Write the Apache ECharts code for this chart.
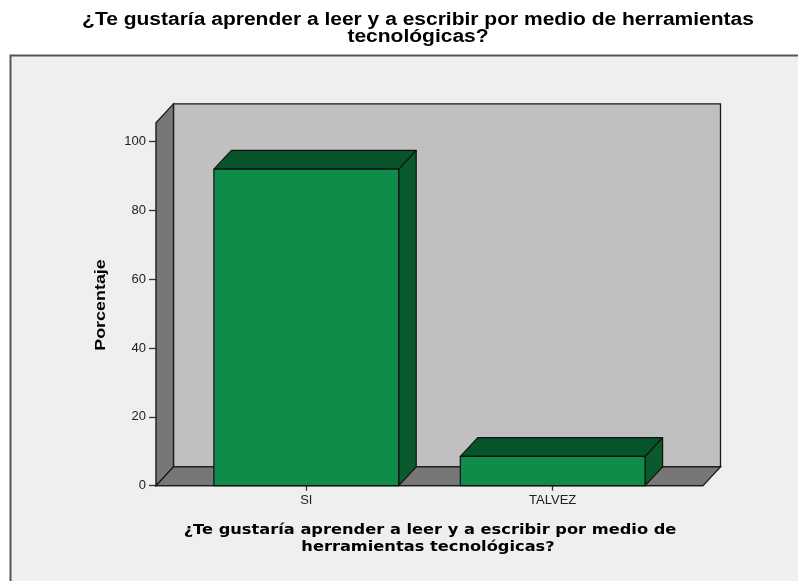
<!DOCTYPE html>
<html><head><meta charset="utf-8">
<script src="https://cdn.jsdelivr.net/npm/echarts@6/dist/echarts.min.js"></script>
<style>html,body{margin:0;padding:0;background:#fff}#c{width:798px;height:581px}</style>
</head><body><div id="c"></div>
<script>
const titleLines = ['¿Te gustaría aprender a leer y a escribir por medio de herramientas', 'tecnológicas?'];
const xTitleLines = ['¿Te gustaría aprender a leer y a escribir por medio de', 'herramientas tecnológicas?'];
const yTitle = 'Porcentaje';
const categories = ['SI', 'TALVEZ'];
const percentages = [92, 8.5];
const yTicks = [0, 20, 40, 60, 80, 100];

const DX = 17.5, DY = 18.8, HALF = 0.375;
const chart = echarts.init(document.getElementById('c'), null, {renderer: 'canvas'});

function wallsRender(params, api) {
  const cs = params.coordSys;
  const L = cs.x, T = cs.y, R = cs.x + cs.width, B = cs.y + cs.height;
  const line = {stroke: '#1a1a1a', lineWidth: 1.3};
  return {type: 'group', silent: true, children: [
    {type: 'rect', shape: {x: L + DX, y: T - DY, width: R - L, height: B - T}, style: Object.assign({fill: '#c0c0c0'}, line)},
    {type: 'polygon', shape: {points: [[L, B], [L, T], [L + DX, T - DY], [L + DX, B - DY]]}, style: Object.assign({fill: '#777777'}, line)},
    {type: 'polygon', shape: {points: [[L, B], [L + DX, B - DY], [R + DX, B - DY], [R, B]]}, style: Object.assign({fill: '#777777'}, line)}
  ]};
}

function barRender(params, api) {
  const x = api.value(0), v = api.value(1);
  const p0 = api.coord([x - HALF, 0]);
  const p1 = api.coord([x + HALF, v]);
  const x0 = p0[0], x1 = p1[0], yb = p0[1], yt = p1[1];
  const line = {stroke: '#111', lineWidth: 1.2, lineJoin: 'round'};
  return {type: 'group', children: [
    {type: 'polygon', shape: {points: [[x1, yt], [x1 + DX, yt - DY], [x1 + DX, yb - DY], [x1, yb]]}, style: Object.assign({fill: '#0a5a2d'}, line)},
    {type: 'polygon', shape: {points: [[x0, yt], [x0 + DX, yt - DY], [x1 + DX, yt - DY], [x1, yt]]}, style: Object.assign({fill: '#08542a'}, line)},
    {type: 'rect', shape: {x: x0, y: yt, width: x1 - x0, height: yb - yt}, style: Object.assign({fill: '#108c4a'}, line)}
  ]};
}

function textLine(txt, x, y, opts) {
  return Object.assign({type: 'text', x: x, y: y, silent: true,
    style: {text: txt, fontFamily: opts.family, fontWeight: 'bold', fontSize: opts.size, fill: '#000', align: 'center', verticalAlign: 'middle'}},
    opts.extra || {});
}

const titleOpts = {family: 'Liberation Sans', size: 17.5, extra: {scaleX: 1.2}};
const xTitleOpts = {family: 'DejaVu Sans', size: 14, extra: {scaleX: 1.16}};

chart.setOption({
  animation: false,
  backgroundColor: '#ffffff',
  graphic: [
    {type: 'rect', z: -10, silent: true, shape: {x: 10.5, y: 55.5, width: 820, height: 560},
     style: {fill: '#efefef', stroke: '#555', lineWidth: 2}},
    textLine(titleLines[0], 418, 20.5, titleOpts),
    textLine(titleLines[1], 418, 37, titleOpts),
    textLine(xTitleLines[0], 430, 530.5, xTitleOpts),
    textLine(xTitleLines[1], 428, 547.5, xTitleOpts),
    {type: 'text', x: 101, y: 305, rotation: Math.PI / 2, scaleX: 1.28, silent: true,
     style: {text: yTitle, fontFamily: 'Liberation Sans', fontWeight: 'bold', fontSize: 14, fill: '#000', align: 'center', verticalAlign: 'middle'}}
  ],
  grid: {left: 156, right: 95, top: 122.7, bottom: 95.3, containLabel: false},
  xAxis: {
    type: 'value', min: -0.61, max: 1.61,
    axisLine: {show: true, onZero: false, lineStyle: {color: '#1a1a1a', width: 1.3}},
    splitLine: {show: false},
    axisTick: {show: true, customValues: [0, 1], length: 5, lineStyle: {color: '#333', width: 1.3}},
    axisLabel: {customValues: [0, 1], formatter: v => categories[v], margin: 8,
      fontFamily: 'Liberation Sans', fontSize: 13, color: '#222'}
  },
  yAxis: {
    type: 'value', min: 0, max: 105.5,
    axisLine: {show: true, onZero: false, lineStyle: {color: '#1a1a1a', width: 1.3}},
    splitLine: {show: false},
    axisTick: {show: true, customValues: yTicks, length: 7, lineStyle: {color: '#333', width: 1.3}},
    axisLabel: {customValues: yTicks, margin: 10, fontFamily: 'Liberation Sans', fontSize: 13, color: '#222'}
  },
  series: [
    {type: 'custom', renderItem: wallsRender, data: [[0, 0]], z: 1, silent: true},
    {type: 'custom', renderItem: barRender, z: 2,
     data: categories.map((c, i) => [i, percentages[i]])}
  ]
});
</script></body></html>
